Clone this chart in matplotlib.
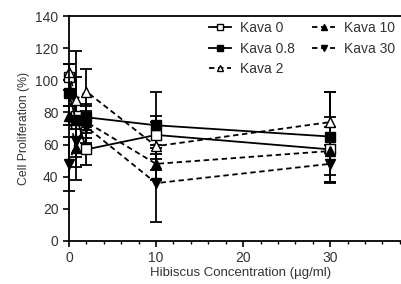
import matplotlib
matplotlib.use("Agg")
import matplotlib.pyplot as plt
from matplotlib.ticker import MultipleLocator
from matplotlib.lines import Line2D

plt.rcParams['font.family'] = ['Liberation Sans', 'DejaVu Sans']

hibiscus = [0, 0.8, 2, 10, 30]
series_names = ["Kava 0", "Kava 0.8", "Kava 2", "Kava 10", "Kava 30"]
kava0 = [102, 78, 57, 66, 57]
kava0_err = [8, 40, 10, 12, 20]
kava08 = [92, 75, 77, 72, 65]
kava08_err = [8, 10, 8, 21, 28]
kava2 = [105, 88, 93, 59, 74]
kava2_err = [5, 14, 14, 15, 19]
kava10 = [78, 58, 74, 48, 56]
kava10_err = [6, 12, 10, 10, 15]
kava30 = [48, 62, 71, 36, 48]
kava30_err = [17, 10, 10, 24, 12]

fig = plt.figure(figsize=(4.01, 2.84), dpi=100)
W, H = 401, 284
ax = fig.add_axes([69 / W, (H - 241) / H, (412 - 69) / W, (241 - 16) / H])

styles = [
    (kava0, kava0_err, 's', 'white', '-'),
    (kava08, kava08_err, 's', 'black', '-'),
    (kava2, kava2_err, '^', 'white', '--'),
    (kava10, kava10_err, '^', 'black', '--'),
    (kava30, kava30_err, 'v', 'black', '--'),
]
handles = []
for name, (y, e, m, fc, ls) in zip(series_names, styles):
    dashes = (3, 2) if ls == '--' else (None, None)
    ax.errorbar(hibiscus, y, yerr=e, color='black', marker=m, markerfacecolor=fc,
                markeredgecolor='black', markersize=6.5, linestyle=ls, linewidth=1.3,
                elinewidth=1.3, capsize=4, capthick=1.3, clip_on=False, dashes=dashes)
    handles.append(Line2D([], [], color='black', marker=m, markerfacecolor=fc,
                          markeredgecolor='black', markersize=5, linestyle=ls,
                          linewidth=1.3, dashes=dashes, label=name))

ax.set_xlim(0, 39.4)
ax.set_ylim(0, 140)
ax.set_yticks(range(0, 141, 20))
ax.set_xticks([0, 10, 20, 30])
ax.xaxis.set_minor_locator(MultipleLocator(2))
ax.tick_params(axis='both', which='major', direction='out', length=4, width=1.2,
               labelsize=10, colors='black', labelcolor='#333333')
ax.tick_params(axis='x', which='minor', direction='out', length=2.5, width=1.0)
for s in ax.spines.values():
    s.set_linewidth(1.3)
ax.spines['right'].set_visible(False)
ax.set_ylabel("Cell Proliferation (%)", fontsize=8.8, color='#333333', labelpad=4)
ax.set_xlabel("Hibiscus Concentration (\u00b5g/ml)", fontsize=9.5, color='#333333', labelpad=1)

fig.legend(handles=handles, loc='upper left', bbox_to_anchor=(209 / W, 1 - 21 / H),
           ncol=2, frameon=False, fontsize=10, handlelength=1.6, handletextpad=0.65,
           columnspacing=1.25, labelspacing=0.47, borderaxespad=0, borderpad=0,
           labelcolor='#333333')

fig.savefig("out.png", dpi=100)
